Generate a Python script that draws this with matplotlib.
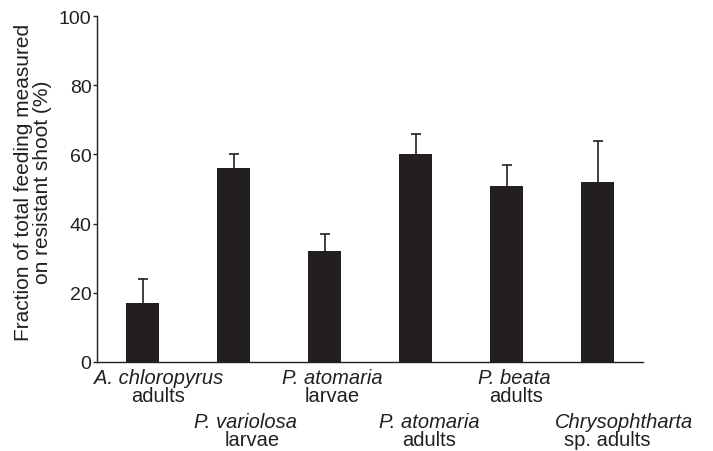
import matplotlib.pyplot as plt
import numpy as np

# species / stage labels (italic part, plain part)
species = ["A. chloropyrus", "P. variolosa", "P. atomaria", "P. atomaria", "P. beata", "Chrysophtharta"]
stages = ["adults", "larvae", "larvae", "adults", "adults", "sp. adults"]
means = [17, 56, 32, 60, 51, 52]
err_upper = [7, 4, 5, 6, 6, 12]
y_ticks = [0, 20, 40, 60, 80, 100]

ink = "#231f20"
plt.rcParams['font.family'] = ['Liberation Sans', 'DejaVu Sans']

fig = plt.figure(figsize=(7.13, 4.52), dpi=100)
ax = fig.add_axes([97 / 713, 1 - 363 / 452, 546 / 713, 346 / 452])

x = np.arange(len(means))
ax.bar(x, means, width=0.36, color=ink, zorder=2)
eb = ax.errorbar(x, means, yerr=[np.zeros(len(means)), err_upper], fmt='none',
                 ecolor=ink, elinewidth=1.2, capsize=3.5, capthick=1.2, zorder=1)
# keep only the upper caps
eb[1][0].set_visible(False)

ax.set_xlim(-0.5, 5.5)
ax.set_ylim(0, 100)
ax.set_yticks(y_ticks)
ax.tick_params(axis='y', direction='out', length=3, width=1, colors=ink,
               labelsize=14, pad=1)
ax.set_xticks([])
for side in ['top', 'right']:
    ax.spines[side].set_visible(False)
for side in ['left', 'bottom']:
    ax.spines[side].set_color(ink)
    ax.spines[side].set_linewidth(1)

# staggered two-line category labels (offsets in data units per line)
off_top = [0.18, 0.13, 0.09, 0.15, 0.09, 0.29]
off_bot = [0.17, 0.20, 0.08, 0.15, 0.10, 0.11]
trans = ax.get_xaxis_transform()
for i in range(len(means)):
    row = 0 if i % 2 == 0 else 1
    y1 = -(379 - 363 + row * 44) / 346
    y2 = -(397 - 363 + row * 44) / 346
    ax.text(x[i] + off_top[i], y1, species[i], transform=trans, ha='center',
            va='center', fontsize=14.5, style='italic', color=ink)
    ax.text(x[i] + off_bot[i], y2, stages[i], transform=trans, ha='center',
            va='center', fontsize=14.5, color=ink)

fig.text(33 / 713, 1 - 182 / 452,
         "Fraction of total feeding measured\non resistant shoot (%)",
         rotation=90, ha='center', va='center', fontsize=15, color=ink,
         linespacing=1.0)

fig.savefig("out.png", dpi=100)
